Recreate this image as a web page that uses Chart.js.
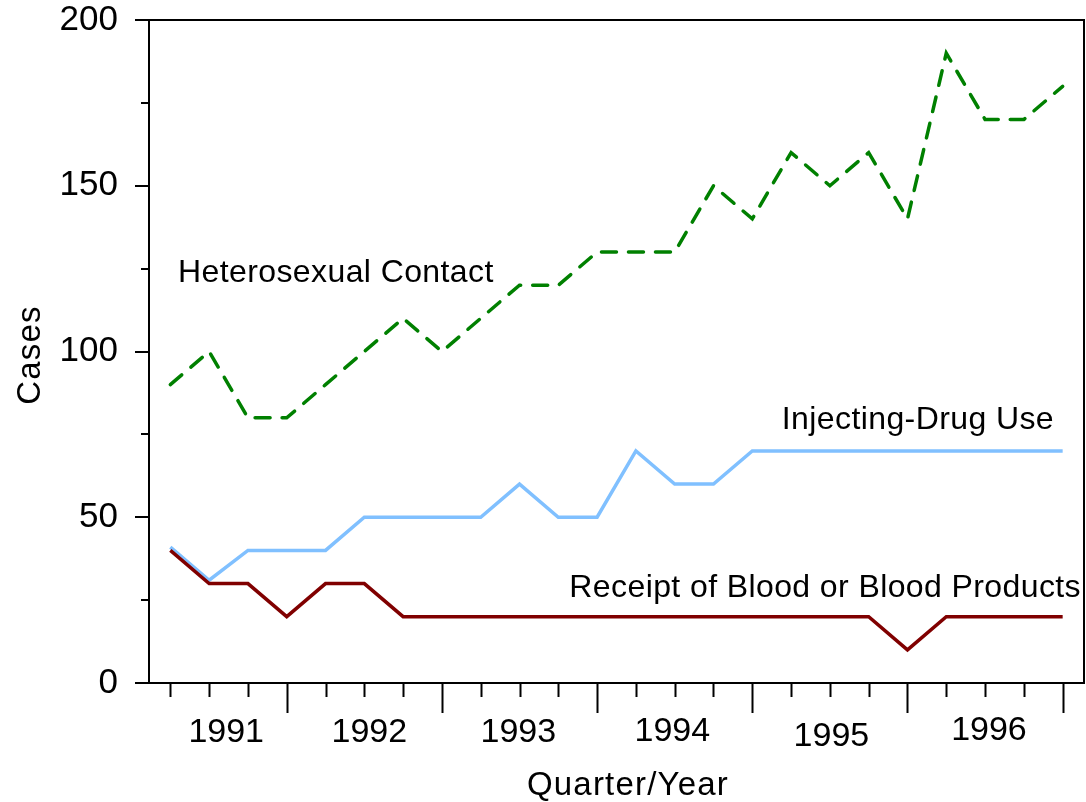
<!DOCTYPE html>
<html>
<head>
<meta charset="utf-8">
<script src="https://cdn.jsdelivr.net/npm/chart.js@4.4.1/dist/chart.umd.min.js"></script>
<style>
  html, body { margin: 0; padding: 0; background: #fff; }
</style>
</head>
<body>
<canvas id="faelle" width="1086" height="802"></canvas>
<script>
// --- Daten ---
const quartale = [
    "1991 Q1", "1991 Q2", "1991 Q3", "1991 Q4",
    "1992 Q1", "1992 Q2", "1992 Q3", "1992 Q4",
    "1993 Q1", "1993 Q2", "1993 Q3", "1993 Q4",
    "1994 Q1", "1994 Q2", "1994 Q3", "1994 Q4",
    "1995 Q1", "1995 Q2", "1995 Q3", "1995 Q4",
    "1996 Q1", "1996 Q2", "1996 Q3", "1996 Q4"
];
const jahre = ["1991", "1992", "1993", "1994", "1995", "1996"];
const heterosexuell = [90, 100, 80, 80, 90, 100, 110, 100, 110, 120, 120, 130,
                       130, 130, 150, 140, 160, 150, 160, 140, 190, 170, 170, 180];
const drogen = [41, 31, 40, 40, 40, 50, 50, 50, 50, 60, 50, 50,
                70, 60, 60, 70, 70, 70, 70, 70, 70, 70, 70, 70];
const blut = [40, 30, 30, 20, 30, 30, 20, 20, 20, 20, 20, 20,
              20, 20, 20, 20, 20, 20, 20, 10, 20, 20, 20, 20];
const yWerte = [0, 50, 100, 150, 200];

// Position der Jahresbeschriftung (in Quartals-Einheiten) und kleiner Versatz
const jahrLabelPos = [1.44, 5.13, 8.97, 12.94, 17.04, 21.1];
const jahrLabelDy = [0, 0, 0, -1, 4, -2];

const schrift = "'Liberation Sans', Arial, sans-serif";

function punkte(werte) {
    return werte.map((v, i) => ({ x: i, y: v }));
}

// --- Achsen, Striche und Texte selbst zeichnen ---
const rahmenPlugin = {
    id: "rahmen",
    afterDraw(chart) {
        const ctx = chart.ctx;
        const a = chart.chartArea;
        const xs = chart.scales.x;
        const ys = chart.scales.y;
        ctx.save();
        ctx.strokeStyle = "#000";
        ctx.lineWidth = 2;
        ctx.lineCap = "butt";

        ctx.beginPath();
        // Rahmen
        ctx.moveTo(a.left, a.top);
        ctx.lineTo(a.left, a.bottom);
        ctx.moveTo(a.left - 14, a.bottom);
        ctx.lineTo(a.right + 1, a.bottom);
        ctx.moveTo(a.left - 14, a.top);
        ctx.lineTo(a.right + 1, a.top);
        ctx.moveTo(a.right, a.top);
        ctx.lineTo(a.right, a.bottom);

        // y-Striche
        for (let v = 0; v <= 200; v += 25) {
            const y = Math.round(ys.getPixelForValue(v));
            const len = v % 50 === 0 ? 14 : 8;
            ctx.moveTo(a.left - len, y);
            ctx.lineTo(a.left, y);
        }

        // x-Striche
        quartale.forEach((q, i) => {
            const x = Math.round(xs.getPixelForValue(i)) + 0.5;
            const len = i % 4 === 3 ? 30 : 14;
            ctx.moveTo(x, a.bottom);
            ctx.lineTo(x, a.bottom + len);
        });
        ctx.stroke();

        ctx.fillStyle = "#000";
        ctx.textBaseline = "alphabetic";

        // Jahre
        ctx.font = "34px " + schrift;
        ctx.textAlign = "center";
        jahre.forEach((j, k) => {
            ctx.fillText(j, xs.getPixelForValue(jahrLabelPos[k]), a.bottom + 59 + jahrLabelDy[k]);
        });

        // Achsentitel
        ctx.font = "33px " + schrift;
        ctx.letterSpacing = "1.2px";
        ctx.fillText("Quarter/Year", 628, 795);
        ctx.save();
        ctx.translate(40, 355);
        ctx.rotate(-Math.PI / 2);
        ctx.fillText("Cases", 0, 0);
        ctx.restore();

        // Beschriftung der Linien
        ctx.font = "32px " + schrift;
        ctx.letterSpacing = "0.4px";
        ctx.textAlign = "left";
        ctx.fillText("Heterosexual Contact", 178, 282);
        ctx.textAlign = "right";
        ctx.fillText("Injecting-Drug Use", 1054, 429);
        ctx.fillText("Receipt of Blood or Blood Products", 1081, 597);
        ctx.restore();
    }
};

// --- Diagramm ---
document.addEventListener("DOMContentLoaded", () => {
    const ctx = document.getElementById("faelle").getContext("2d");

    new Chart(ctx, {
        type: "line",
        data: {
            labels: quartale,
            datasets: [
                {
                    label: "Heterosexual Contact",
                    data: punkte(heterosexuell),
                    borderColor: "#008000",
                    borderWidth: 3.5,
                    borderDash: [15, 12],
                    borderCapStyle: "round"
                },
                {
                    label: "Receipt of Blood or Blood Products",
                    data: punkte(blut),
                    borderColor: "#800000",
                    borderWidth: 3.5
                },
                {
                    label: "Injecting-Drug Use",
                    data: punkte(drogen),
                    borderColor: "#80c0ff",
                    borderWidth: 3.5
                }
            ]
        },
        options: {
            responsive: false,
            animation: false,
            devicePixelRatio: 1,
            elements: {
                point: { radius: 0 },
                line: { tension: 0, fill: false }
            },
            layout: { padding: { left: 0, right: 2, top: 20, bottom: 0 } },
            plugins: {
                legend: { display: false },
                tooltip: { enabled: false }
            },
            scales: {
                x: {
                    type: "linear",
                    min: -0.55,
                    max: 23.55,
                    ticks: { display: false },
                    grid: { display: false, drawTicks: false },
                    border: { display: false },
                    afterFit: s => { s.height = 119; s.paddingLeft = 0; s.paddingRight = 0; }
                },
                y: {
                    min: 0,
                    max: 200,
                    afterBuildTicks: s => { s.ticks = yWerte.map(v => ({ value: v })); },
                    ticks: {
                        color: "#000",
                        font: { family: schrift, size: 35 },
                        padding: 31
                    },
                    grid: { display: false, drawTicks: false },
                    border: { display: false },
                    afterFit: s => { s.width = 149; s.paddingTop = 0; s.paddingBottom = 0; }
                }
            }
        },
        plugins: [rahmenPlugin]
    });
});
</script>
</body>
</html>
